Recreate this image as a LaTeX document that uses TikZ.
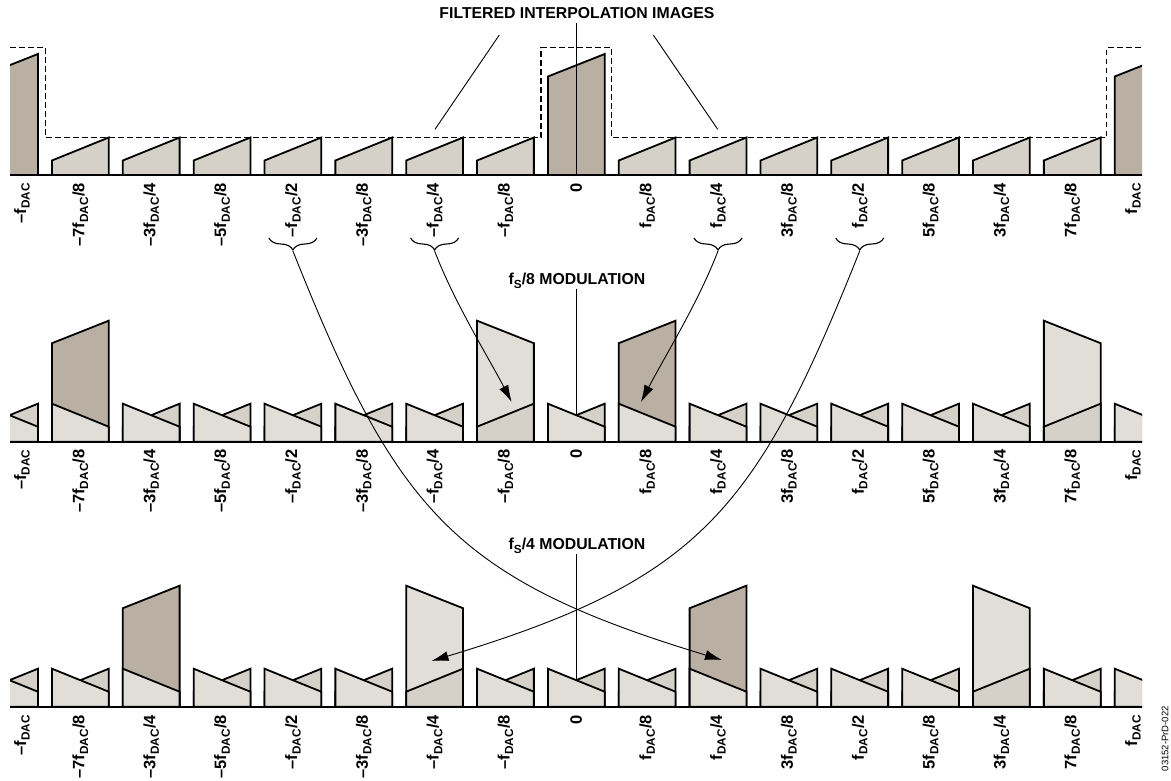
\documentclass[tikz,border=0pt]{standalone}
\usepackage{fontspec}
\setmainfont{Liberation Sans}
\usetikzlibrary{arrows.meta,decorations.pathreplacing}
\definecolor{ImageTan}{RGB}{185,175,163}
\definecolor{ImageLight}{RGB}{225,222,215}
\definecolor{ImageGrey}{RGB}{213,208,200}

% lowered subscript as set in the labels
\newcommand{\lowsub}[1]{\raisebox{-3.6pt}{\fontsize{11.8}{12}\selectfont #1}}
\newcommand{\dac}{\lowsub{DAC}}

% one image: #1 style, #2 centre x, #3 baseline y, #4 left height, #5 right height
\newcommand{\ramp}[5]{%
  \filldraw[#1] ({#2-28.4},#3) -- ({#2-28.4},{#3-#4}) -- ({#2+28.4},{#3-#5}) -- ({#2+28.4},#3) -- cycle;}

% frequency labels under one axis: #1 row name, #2 top of the labels
\newcommand{\freqlabels}[2]{%
  \foreach \i/\txt in {-7/{–7f\dac/8},-6/{–3f\dac/4},-5/{–5f\dac/8},
      -4/{–f\dac/2},-3/{–3f\dac/8},-2/{–f\dac/4},-1/{–f\dac/8},
      0/{0},1/{f\dac/8},2/{f\dac/4},3/{3f\dac/8},4/{f\dac/2},
      5/{5f\dac/8},6/{3f\dac/4},7/{7f\dac/8}}
    \node[lbl] (#1\i) at ({576.3+70.85*(\i)},#2) {\txt};
  \node[lbl] (#1m8) at (22,#2) {–f\dac};
  \node[lbl] (#1p8) at (1133,#2) {f\dac};
}

\begin{document}
\begin{tikzpicture}[x=1pt,y=-1pt,>={Latex[length=17pt,width=10pt]},
  img/.style={draw=black,line width=1.8pt,line join=miter},
  axis/.style={line width=1.8pt},
  lbl/.style={rotate=90,anchor=east,inner sep=0pt,font=\fontsize{16.5}{18}\selectfont\bfseries},
  ttl/.style={inner sep=0pt,font=\fontsize{15.8}{18}\selectfont\bfseries},
  callout/.style={line width=0.9pt},
  mask/.style={line width=1.3pt,dash pattern=on 5.5pt off 3.5pt},
  curly/.style={line width=1.1pt,decorate,decoration={brace,amplitude=12pt}}]
  \useasboundingbox (0,0) rectangle (1171,780);

  % ---- top: filtered interpolation images
  \draw[mask] (10,47.7) -| (45.3,137.7) -| (541,47.7) -| (611.7,137.7) -| (1106.7,47.7) -- (1142,47.7);
  \begin{scope}
    \clip (10,0) rectangle (1142,780);
    \foreach \i in {-7,...,-1,1,2,...,7} {
      \pgfmathsetmacro\cx{576.3+70.85*(\i)}
      \ramp{img,fill=ImageGrey}{\cx}{175}{14.5}{37.5}
    }
    \foreach \i in {-8,0,8} {
      \pgfmathsetmacro\cx{576.3+70.85*(\i)}
      \ramp{img,fill=ImageTan}{\cx}{175}{98.5}{121}
    }
  \end{scope}
  \draw[axis] (10,175) -- (1142,175);
  \freqlabels{top}{183}

  \node[ttl] (flt) at (577,13) {FILTERED INTERPOLATION IMAGES};
  \coordinate (fltL) at (499.3,35);
  \coordinate (fltR) at (653.3,35);
  \coordinate (fltS) at (576.5,23);
  \coordinate (maskL) at (435,129.3);
  \coordinate (maskR) at (717.7,129.3);
  \coordinate (zeroT) at (576.5,175);
  \draw[callout] (fltL) -- (maskL);
  \draw[callout] (fltR) -- (maskR);
  \draw[callout] (fltS) -- (zeroT);

  % ---- middle: fs/8 modulation
  \begin{scope}
    \clip (10,0) rectangle (1142,780);
    \foreach \i in {-8,-6,-5,-4,-3,-2,0,2,3,4,5,6,8} {
      \pgfmathsetmacro\cx{576.3+70.85*(\i)}
      \ramp{img,fill=ImageGrey}{\cx}{441.7}{15}{38}
      \ramp{img,fill=ImageLight}{\cx}{441.7}{38}{15}
    }
    \foreach \i in {-7,1} {
      \pgfmathsetmacro\cx{576.3+70.85*(\i)}
      \ramp{img,fill=ImageTan}{\cx}{441.7}{98.5}{121}
      \ramp{img,fill=ImageLight}{\cx}{441.7}{38}{15}
    }
    \foreach \i in {-1,7} {
      \pgfmathsetmacro\cx{576.3+70.85*(\i)}
      \ramp{img,fill=ImageLight}{\cx}{441.7}{121}{98.5}
      \ramp{img,fill=ImageGrey}{\cx}{441.7}{15}{38}
    }
  \end{scope}
  \draw[axis] (10,441.7) -- (1142,441.7);
  \freqlabels{mid}{449.5}

  \node[ttl] (mod8) at (577,281) {f\lowsub{S}/8 MODULATION};
  \coordinate (mod8S) at (576.5,288.5);
  \coordinate (mod8X) at (576.5,415.2);
  \draw[callout] (mod8S) -- (mod8X);

  % ---- bottom: fs/4 modulation
  \begin{scope}
    \clip (10,0) rectangle (1142,780);
    \foreach \i in {-8,-7,-5,-4,-3,-1,0,1,3,4,5,7,8} {
      \pgfmathsetmacro\cx{576.3+70.85*(\i)}
      \ramp{img,fill=ImageGrey}{\cx}{706.7}{15}{38}
      \ramp{img,fill=ImageLight}{\cx}{706.7}{38}{15}
    }
    \foreach \i in {-6,2} {
      \pgfmathsetmacro\cx{576.3+70.85*(\i)}
      \ramp{img,fill=ImageTan}{\cx}{706.7}{98.5}{121}
      \ramp{img,fill=ImageLight}{\cx}{706.7}{38}{15}
    }
    \foreach \i in {-2,6} {
      \pgfmathsetmacro\cx{576.3+70.85*(\i)}
      \ramp{img,fill=ImageLight}{\cx}{706.7}{121}{98.5}
      \ramp{img,fill=ImageGrey}{\cx}{706.7}{15}{38}
    }
  \end{scope}
  \draw[axis] (10,706.7) -- (1142,706.7);
  \freqlabels{low}{715}

  \node[ttl] (mod4) at (577,546) {f\lowsub{S}/4 MODULATION};
  \coordinate (mod4S) at (576.5,553.5);
  \coordinate (mod4X) at (576.5,680.2);
  \draw[callout] (mod4S) -- (mod4X);

  % ---- braces and the moves between rows
  \draw[curly] (316.9,238) -- (268.9,238);
  \draw[curly] (458.6,238) -- (410.6,238);
  \draw[curly] (742,238) -- (694,238);
  \draw[curly] (883.7,238) -- (835.7,238);
  \coordinate (brHN) at (292.9,251);
  \coordinate (brQN) at (434.6,251);
  \coordinate (brQP) at (718,251);
  \coordinate (brHP) at (859.7,251);
  \coordinate (tgMidN) at (511.7,402);
  \coordinate (tgMidP) at (641,402);
  \coordinate (tgLowP) at (722,660);
  \coordinate (tgLowN) at (431.5,661);
  \draw[->,callout] (brQN) .. controls +(20,52) and +(-24,-46) .. (tgMidN);
  \draw[->,callout] (brQP) .. controls +(-20,52) and +(24,-46) .. (tgMidP);
  \draw[->,callout] (brHN) .. controls +(103.6,260) and +(-268.8,-81.2) .. (tgLowP);
  \draw[->,callout] (brHP) .. controls +(-103.6,260) and +(268.8,-81.2) .. (tgLowN);

  \node[rotate=90,anchor=east,inner sep=0pt,font=\fontsize{9.5}{11}\selectfont] (figid) at (1165,706) {03152-PrD-022};
\end{tikzpicture}
\end{document}
